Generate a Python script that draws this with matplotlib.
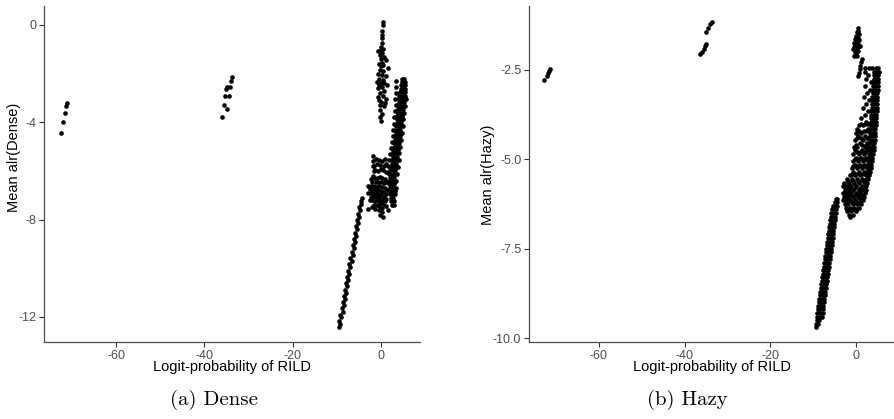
import numpy as np
import matplotlib
matplotlib.use("Agg")
import matplotlib.pyplot as plt

plt.rcParams['font.family'] = ['Liberation Sans', 'DejaVu Sans']

# ---- Dense panel: (logit-probability, mean alr) ----
dense_far = [(-72.4, -4.45), (-72.0, -3.98), (-71.6, -3.60), (-71.4, -3.32), (-71.2, -3.22)]

dense_mid = [(-36.1, -3.77), (-35.6, -3.29), (-34.8, -3.44), (-35.3, -2.90), (-34.5, -2.93),
             (-35.2, -2.64), (-34.9, -2.53), (-34.1, -2.53), (-33.9, -2.29), (-33.7, -2.15)]

dense_low = [(-9.45, -12.40), (-9.20, -12.28), (-9.45, -12.16), (-9.00, -12.02), (-9.25, -11.90),
             (-8.70, -11.78), (-8.95, -11.64), (-8.45, -11.52), (-8.70, -11.40), (-8.20, -11.26),
             (-8.45, -11.14), (-7.95, -11.00), (-8.15, -10.88), (-7.70, -10.74), (-7.95, -10.62),
             (-7.45, -10.48), (-7.70, -10.36), (-7.20, -10.22), (-7.45, -10.10), (-6.95, -9.96),
             (-7.20, -9.84), (-6.70, -9.70), (-6.95, -9.58), (-6.45, -9.44), (-6.70, -9.32),
             (-6.20, -9.18), (-6.42, -9.06), (-5.95, -8.92), (-6.18, -8.80), (-5.72, -8.66),
             (-5.92, -8.54), (-5.45, -8.40), (-5.68, -8.28), (-5.22, -8.14), (-5.42, -8.02),
             (-4.98, -7.88), (-5.18, -7.76), (-4.75, -7.62), (-4.92, -7.50), (-4.50, -7.36),
             (-4.62, -7.24), (-4.30, -7.12)]

dense_top = [(0.40, 0.12), (0.38, -0.02), (0.30, -0.25), (0.25, -0.40), (0.10, -0.55), (0.20, -0.75),
             (-0.05, -0.90), (0.35, -1.00), (-0.75, -1.05), (-0.20, -1.05), (0.15, -1.15),
             (-0.30, -1.25), (0.60, -1.30), (-0.10, -1.40), (1.20, -1.45), (0.25, -1.55),
             (-0.55, -1.62), (0.45, -1.65), (0.05, -1.70), (1.45, -1.75), (-0.25, -1.85),
             (0.50, -1.90), (-0.80, -2.00), (0.10, -2.05), (1.00, -2.10), (-0.40, -2.20),
             (0.35, -2.25), (-0.90, -2.35), (0.55, -2.40), (-0.10, -2.40), (-0.45, -2.45),
             (1.30, -2.45), (0.20, -2.55), (-0.60, -2.60), (0.70, -2.70), (-0.20, -2.80),
             (0.45, -2.90), (-0.70, -2.95), (1.10, -3.05), (-0.50, -3.10), (0.05, -3.15),
             (0.90, -3.20), (-0.35, -3.30), (0.60, -3.35), (-0.15, -3.50), (0.20, -3.65),
             (-0.30, -3.80), (0.00, -3.95)]

dense_column = [(3.45, -2.30), (3.35, -2.55), (3.40, -2.80), (3.25, -3.05), (3.30, -3.30),
                (3.15, -3.55), (3.00, -3.80), (2.95, -4.05), (2.75, -4.30), (2.60, -4.55),
                (2.40, -4.80), (2.20, -5.05), (2.00, -5.30), (1.80, -5.55), (1.55, -5.80)]

# rows of (mean alr, [logit-probabilities]) along the right-hand band
dense_band_rows = [
    (-2.20, [4.75, 5.25]),
    (-2.34, [4.70, 5.20, 5.45]),
    (-2.48, [4.55, 5.05, 5.45]),
    (-2.62, [4.45, 4.95, 5.50]),
    (-2.76, [4.30, 4.85, 5.40]),
    (-2.90, [4.15, 4.70, 5.35]),
    (-3.04, [4.00, 4.55, 5.10, 5.55]),
    (-3.18, [4.10, 4.60, 5.20]),
    (-3.32, [3.95, 4.45, 5.05, 5.45]),
    (-3.46, [3.90, 4.40, 4.95]),
    (-3.60, [3.80, 4.30, 4.85, 5.25]),
    (-3.74, [3.70, 4.20, 4.75]),
    (-3.88, [3.60, 4.10, 4.65, 5.05]),
    (-4.02, [3.55, 4.05, 4.55]),
    (-4.16, [3.45, 3.95, 4.45, 4.90]),
    (-4.30, [3.35, 3.85, 4.35]),
    (-4.44, [3.30, 3.80, 4.30, 4.70]),
    (-4.58, [3.20, 3.70, 4.20]),
    (-4.72, [3.10, 3.60, 4.10, 4.55]),
    (-4.86, [3.00, 3.50, 4.00]),
    (-5.00, [2.90, 3.40, 3.90, 4.35]),
    (-5.14, [2.80, 3.30, 3.80]),
    (-5.28, [2.70, 3.20, 3.70, 4.15]),
    (-5.42, [2.60, 3.10, 3.60]),
    (-5.56, [2.45, 3.00, 3.50, 3.95]),
    (-5.70, [2.35, 2.90, 3.40]),
    (-5.84, [2.25, 2.80, 3.30, 3.80]),
    (-5.98, [2.10, 2.70, 3.20]),
    (-6.12, [2.00, 2.60, 3.10, 3.60]),
    (-6.26, [1.90, 2.50, 3.00]),
    (-6.40, [1.80, 2.40, 2.95, 3.45]),
    (-6.54, [1.75, 2.35, 2.90]),
    (-6.68, [1.90, 2.40, 2.90, 3.30]),
    (-6.82, [2.00, 2.50, 3.05]),
    (-6.96, [2.10, 2.60, 3.10]),
    (-7.10, [2.20, 2.70]),
    (-7.24, [2.30, 2.85]),
    (-7.40, [2.45, 2.90]),
]

dense_scatter = [(-1.80, -5.40), (-1.75, -5.60), (-1.85, -5.80), (-1.70, -6.00), (-1.90, -6.20),
                 (-1.20, -5.50), (-0.90, -5.70), (-0.40, -5.55), (0.20, -5.60), (0.80, -5.50),
                 (1.20, -5.70), (-1.30, -5.95), (-0.70, -6.00), (-0.10, -5.90), (0.50, -5.95),
                 (1.00, -6.05), (1.50, -6.10), (-2.40, -6.35), (-1.50, -6.30), (-0.90, -6.30),
                 (-0.30, -6.25), (0.30, -6.30), (0.90, -6.35), (1.40, -6.45), (-2.90, -6.60),
                 (-2.20, -6.60), (-1.60, -6.60), (-1.00, -6.65), (-0.40, -6.60), (0.20, -6.65),
                 (0.80, -6.70), (1.30, -6.80), (-3.00, -6.90), (-2.40, -6.90), (-1.80, -6.95),
                 (-1.20, -6.90), (-0.60, -6.95), (0.00, -7.00), (0.60, -7.05), (1.10, -7.15),
                 (-2.60, -7.20), (-2.00, -7.20), (-1.40, -7.25), (-0.80, -7.20), (-0.20, -7.30),
                 (0.40, -7.35), (1.00, -7.45), (-2.90, -7.55), (-2.10, -7.50), (-1.30, -7.55),
                 (-0.50, -7.60), (0.20, -7.70), (-0.30, -7.80), (0.40, -7.90), (1.60, -7.60),
                 (-1.50, -5.80), (-0.30, -5.75), (0.60, -5.80), (-2.00, -6.45), (-1.20, -6.45),
                 (-0.60, -6.45), (0.00, -6.45), (0.60, -6.50), (-2.60, -6.75), (-1.90, -6.78),
                 (-1.30, -6.78), (-0.70, -6.80), (-0.10, -6.82), (0.50, -6.88), (1.00, -6.95),
                 (-2.20, -7.05), (-1.60, -7.08), (-1.00, -7.05), (-0.40, -7.12), (0.20, -7.18),
                 (0.80, -7.25), (-1.70, -7.40), (-1.00, -7.40), (-0.40, -7.45), (0.20, -7.52)]

# ---- Hazy panel ----
hazy_far = [(-72.7, -2.78), (-72.2, -2.68), (-71.8, -2.58), (-71.6, -2.52), (-71.4, -2.47)]

hazy_mid = [(-36.3, -2.06), (-35.9, -1.99), (-35.5, -1.92), (-35.2, -1.82), (-35.0, -1.76),
            (-34.9, -1.43), (-34.5, -1.33), (-34.1, -1.21), (-33.7, -1.15)]

hazy_low_rows = [
    (-9.70, [-9.35]),
    (-9.60, [-9.30, -8.75]),
    (-9.50, [-9.20, -8.60]),
    (-9.40, [-9.10, -8.50, -7.95]),
    (-9.30, [-9.00, -8.40, -7.80]),
    (-9.20, [-8.90, -8.30, -7.70]),
    (-9.10, [-8.75, -8.15, -7.60]),
    (-9.00, [-8.65, -8.05, -7.45]),
    (-8.90, [-8.55, -7.95, -7.35]),
    (-8.80, [-8.40, -7.80, -7.25]),
    (-8.70, [-8.30, -7.70, -7.15]),
    (-8.60, [-8.20, -7.60, -7.00]),
    (-8.50, [-8.05, -7.50, -6.90]),
    (-8.40, [-7.95, -7.35, -6.80]),
    (-8.30, [-7.85, -7.25, -6.70]),
    (-8.20, [-7.75, -7.15, -6.55]),
    (-8.10, [-7.60, -7.05, -6.45]),
    (-8.00, [-7.50, -6.90, -6.35]),
    (-7.90, [-7.40, -6.80, -6.25]),
    (-7.80, [-7.25, -6.70, -6.15]),
    (-7.70, [-7.15, -6.60, -6.00]),
    (-7.60, [-7.05, -6.45, -5.90]),
    (-7.50, [-6.90, -6.35, -5.80]),
    (-7.40, [-6.80, -6.25, -5.70]),
    (-7.30, [-6.70, -6.15, -5.60]),
    (-7.20, [-6.60, -6.05, -5.45]),
    (-7.10, [-6.45, -5.90, -5.35]),
    (-7.00, [-6.35, -5.80, -5.25]),
    (-6.90, [-6.25, -5.70, -5.15]),
    (-6.80, [-6.10, -5.60, -5.05]),
    (-6.70, [-6.00, -5.45, -4.90]),
    (-6.60, [-5.85, -5.35, -4.80]),
    (-6.50, [-5.75, -5.25, -4.70]),
    (-6.40, [-5.55, -5.05, -4.60]),
    (-6.30, [-5.30, -4.85, -4.50]),
    (-6.20, [-5.00, -4.65, -4.40]),
    (-6.10, [-4.60, -4.35]),
]

hazy_top = [(0.55, -1.33), (0.40, -1.42), (0.60, -1.50), (0.10, -1.55), (0.45, -1.60),
            (-0.30, -1.62), (0.80, -1.66), (0.00, -1.70), (-0.55, -1.74), (0.50, -1.76),
            (-0.20, -1.82), (0.85, -1.84), (0.20, -1.88), (-0.60, -1.92), (0.40, -1.96),
            (-0.30, -2.00), (0.10, -2.05), (-0.45, -2.12),
            (0.20, -1.45), (-0.10, -1.65), (0.30, -1.70), (0.60, -1.82), (-0.40, -1.85),
            (0.00, -1.95), (0.20, -2.10),
            (1.35, -2.18), (1.20, -2.28), (1.05, -2.38), (0.95, -2.48), (0.75, -2.58), (0.55, -2.68)]

hazy_band_rows = [
    (-2.45, [2.20, 3.00, 3.80, 4.60, 5.20]),
    (-2.55, [2.00, 4.30, 4.90, 5.30]),
    (-2.65, [2.90, 4.20, 4.80, 5.20]),
    (-2.75, [2.40, 4.10, 4.70, 5.15]),
    (-2.85, [3.60, 4.05, 4.60, 5.10]),
    (-2.95, [2.10, 4.00, 4.55, 5.10]),
    (-3.05, [3.20, 3.95, 4.50, 5.05]),
    (-3.15, [2.60, 3.90, 4.45, 5.00]),
    (-3.25, [1.90, 3.85, 4.40, 4.95]),
    (-3.35, [3.00, 3.80, 4.35, 4.95]),
    (-3.45, [2.30, 3.75, 4.30, 4.90]),
    (-3.55, [1.60, 3.70, 4.25, 4.85]),
    (-3.65, [2.70, 3.60, 4.20, 4.80]),
    (-3.75, [2.00, 3.55, 4.15, 4.75]),
    (-3.85, [1.20, 3.50, 4.10, 4.70]),
    (-3.95, [2.40, 3.45, 4.05, 4.65]),
    (-4.00, [1.20, 2.10, 2.90]),
    (-4.05, [0.80, 1.70, 3.40, 4.00, 4.60]),
    (-4.15, [0.30, 2.80, 3.35, 3.95, 4.55]),
    (-4.20, [0.80, 1.80, 2.50]),
    (-4.25, [-0.10, 1.20, 3.30, 3.90, 4.50]),
    (-4.35, [0.50, 2.20, 3.25, 3.85, 4.45]),
    (-4.40, [0.20, 1.10, 2.60]),
    (-4.45, [-0.30, 1.60, 3.20, 3.80, 4.40]),
    (-4.55, [0.90, 2.60, 3.15, 3.75, 4.30]),
    (-4.60, [-0.10, 1.40, 2.30]),
    (-4.65, [-0.50, 0.30, 2.00, 3.10, 3.70, 4.20]),
    (-4.75, [-0.20, 1.30, 2.50, 3.05, 3.60, 4.10]),
    (-4.80, [0.20, 1.00, 2.20]),
    (-4.85, [-0.60, 0.70, 1.80, 3.00, 3.50, 4.00]),
    (-4.95, [0.10, 1.10, 2.30, 2.90, 3.40, 3.85]),
    (-5.00, [-0.30, 0.80, 1.90, 2.50]),
    (-5.05, [-0.70, 0.50, 1.60, 2.80, 3.30, 3.70]),
    (-5.15, [-0.30, 0.90, 2.10, 2.70, 3.20, 3.55]),
    (-5.20, [-0.60, 0.50, 1.70, 2.30]),
    (-5.25, [-1.00, 0.20, 1.40, 2.60, 3.10, 3.40]),
    (-5.35, [-0.60, 0.60, 1.80, 2.50, 3.00, 3.25]),
    (-5.40, [-1.00, 0.10, 1.30, 2.00]),
    (-5.45, [-1.40, -0.20, 1.00, 2.40, 2.90, 3.10]),
    (-5.55, [-2.20, -0.90, 0.30, 1.50, 2.30, 2.80]),
    (-5.60, [-1.80, -0.60, 0.50, 1.60]),
    (-5.65, [-2.70, -1.60, -0.40, 0.80, 2.00, 2.60]),
    (-5.75, [-3.00, -2.10, -1.10, 0.10, 1.30, 2.40]),
    (-5.80, [-2.40, -1.40, -0.20, 0.90, 1.90]),
    (-5.85, [-2.60, -1.70, -0.60, 0.60, 1.60, 2.30]),
    (-5.95, [-3.00, -2.20, -1.20, -0.10, 1.00, 2.10]),
    (-6.00, [-2.50, -1.50, -0.30, 0.80, 1.60]),
    (-6.05, [-2.70, -1.80, -0.70, 0.40, 1.40, 1.90]),
    (-6.15, [-3.00, -2.30, -1.30, -0.20, 0.90, 1.60]),
    (-6.20, [-2.20, -1.00, 0.10, 1.00]),
    (-6.25, [-2.60, -1.90, -0.80, 0.30, 1.20]),
    (-6.35, [-2.40, -1.50, -0.40, 0.70]),
    (-6.40, [-1.80, -0.80, 0.30]),
    (-6.45, [-2.00, -1.10, 0.00]),
    (-6.55, [-1.70, -0.60]),
    (-6.62, [-1.40]),
]

x_ticks = [-60, -40, -20, 0]
dense_yticks = [0, -4, -8, -12]
hazy_yticks = [-2.5, -5.0, -7.5, -10.0]
x_title = "Logit-probability of RILD"


def rows_to_points(rows):
    return [(x, y) for y, xs in rows for x in xs]


def to_xy(*groups):
    pts = [p for g in groups for p in g]
    arr = np.array(pts)
    return arr[:, 0], arr[:, 1]


def style_axis(ax, yticks):
    for side in ['top', 'right']:
        ax.spines[side].set_visible(False)
    for side in ['left', 'bottom']:
        ax.spines[side].set_color('#4d4d4d')
        ax.spines[side].set_linewidth(0.9)
    ax.set_xticks(x_ticks)
    ax.set_xticklabels([str(t) for t in x_ticks])
    ax.set_yticks(yticks)
    ax.set_yticklabels([str(t) for t in yticks])
    ax.tick_params(colors='#333333', labelcolor='#4d4d4d', labelsize=9,
                   length=3.5, width=0.8, pad=2)


fig = plt.figure(figsize=(8.95, 4.19), dpi=100)
W, H = 895, 419

ax1 = fig.add_axes([44 / W, 77 / H, 376 / W, 336 / H])
dx, dy = to_xy(dense_far, dense_mid, dense_low, dense_top, dense_column,
               rows_to_points(dense_band_rows), dense_scatter)
ax1.scatter(dx, dy, s=11, color='black', linewidths=0)
ax1.set_xlim(-76.3, 8.8)
ax1.set_ylim(-13.03, 0.78)
style_axis(ax1, dense_yticks)

ax2 = fig.add_axes([529 / W, 77 / H, 366 / W, 336 / H])
hx, hy = to_xy(hazy_far, hazy_mid, rows_to_points(hazy_low_rows), hazy_top,
               rows_to_points(hazy_band_rows))
ax2.scatter(hx, hy, s=11, color='black', linewidths=0)
ax2.set_xlim(-76.3, 9.1)
ax2.set_ylim(-10.11, -0.71)
style_axis(ax2, hazy_yticks)

# axis titles and captions
fig.text(232 / W, 1 - 367 / H, x_title, ha='center', va='center', fontsize=10.5)
fig.text(712 / W, 1 - 367 / H, x_title, ha='center', va='center', fontsize=10.5)
fig.text(14 / W, 1 - 157 / H, "Mean alr(Dense)", rotation=90, ha='center', va='center', fontsize=10.5)
fig.text(488 / W, 1 - 175 / H, "Mean alr(Hazy)", rotation=90, ha='center', va='center', fontsize=10.5)
fig.text(214 / W, 1 - 400 / H, "(a) Dense", ha='center', va='center', fontsize=15, family='cmr10')
fig.text(687 / W, 1 - 400 / H, "(b) Hazy", ha='center', va='center', fontsize=15, family='cmr10')

fig.savefig("out.png", dpi=100)
